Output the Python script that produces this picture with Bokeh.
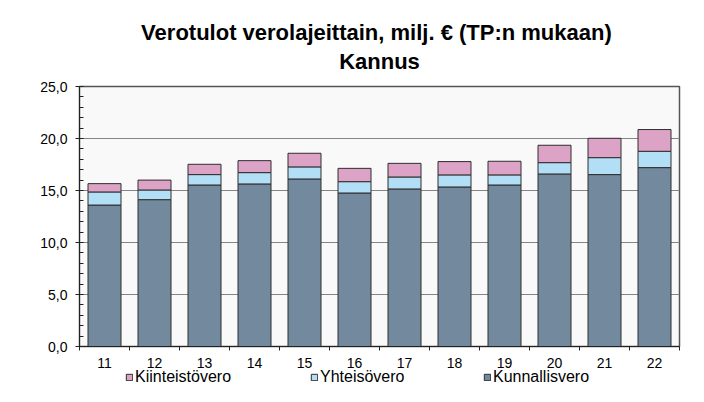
from bokeh.plotting import figure
from bokeh.layouts import column
from bokeh.models import (ColumnDataSource, Range1d, FixedTicker, Legend, LegendItem, Title)
from bokeh.embed import file_html
from bokeh.resources import INLINE

categories = ["11", "12", "13", "14", "15", "16", "17", "18", "19", "20", "21", "22"]
kunnallisvero = [13.60, 14.12, 15.53, 15.63, 16.11, 14.76, 15.15, 15.34, 15.53, 16.59, 16.53, 17.20]
yhteisovero = [1.26, 0.93, 1.00, 1.09, 1.16, 1.09, 1.15, 1.16, 0.97, 1.09, 1.63, 1.57]
kiinteistovero = [0.80, 0.95, 0.99, 1.15, 1.31, 1.28, 1.31, 1.28, 1.31, 1.67, 1.86, 2.09]
y_ticks = [0, 5, 10, 15, 20, 25]
y_tick_labels = ["0,0", "5,0", "10,0", "15,0", "20,0", "25,0"]
series_names = ["Kunnallisvero", "Yhteisövero", "Kiinteistövero"]
title_main = "Verotulot verolajeittain, milj. €  (TP:n mukaan)"
title_sub = "Kannus"

FONT = "Liberation Sans"
colors = ["#738A9E", "#B3DFF6", "#DDA3C6"]
EDGE = "#2E2E2E"

idx = list(range(len(categories)))
source = ColumnDataSource(dict(x=idx, Kunnallisvero=kunnallisvero,
                               Yhteisövero=yhteisovero, Kiinteistövero=kiinteistovero))

p = figure(width=688, height=372, output_backend="svg", toolbar_location=None,
           x_range=Range1d(-0.5, len(categories) - 0.5), y_range=Range1d(0, 25),
           min_border_left=79, min_border_right=9, min_border_top=86, min_border_bottom=26,
           background_fill_color="#F9F9F9", border_fill_color="white")
p.title.text = ""

renderers = p.vbar_stack(series_names, x="x", width=0.66, source=source,
                         fill_color=colors, line_color=EDGE, line_width=1)

p.add_layout(Title(text=title_sub, align="center", offset=-4,
                   text_font=FONT, text_font_size="22px", text_font_style="bold",
                   text_color="black", standoff=25), "above")
p.add_layout(Title(text=title_main, align="center", offset=-4,
                   text_font=FONT, text_font_size="22px", text_font_style="bold",
                   text_color="black", standoff=-20), "above")

p.outline_line_color = "#555555"
p.outline_line_width = 1.5

# x axis
xa = p.xaxis[0]
xa.ticker = FixedTicker(ticks=idx, minor_ticks=[i - 0.5 for i in range(len(categories) + 1)])
xa.major_label_overrides = {i: c for i, c in zip(idx, categories)}
xa.major_tick_line_color = None
xa.major_tick_out = 0
xa.major_tick_in = 0
xa.minor_tick_out = 4
xa.minor_tick_in = 0
xa.minor_tick_line_color = "#222222"
xa.axis_line_color = "#222222"
xa.major_label_standoff = 7
xa.major_label_text_font = FONT
xa.major_label_text_font_size = "14px"
xa.major_label_text_color = "black"

# y axis
ya = p.yaxis[0]
ya.ticker = FixedTicker(ticks=y_ticks, minor_ticks=list(range(0, 26)))
ya.major_label_overrides = {t: l for t, l in zip(y_ticks, y_tick_labels)}
ya.major_tick_out = 4
ya.major_tick_in = 4
ya.minor_tick_out = 0
ya.minor_tick_in = 4
ya.major_tick_line_color = "#222222"
ya.minor_tick_line_color = "#222222"
ya.axis_line_color = "#222222"
ya.major_label_standoff = 8
ya.major_label_text_font = FONT
ya.major_label_text_font_size = "14px"
ya.major_label_text_color = "black"

p.xgrid.grid_line_color = None
p.ygrid.ticker = FixedTicker(ticks=y_ticks)
p.ygrid.grid_line_color = "#858585"
p.ygrid.grid_line_width = 1

# legend strip below the chart (same data source; its view range shows no bars)
lf = figure(width=688, height=22, output_backend="svg", toolbar_location=None,
            x_range=Range1d(100, 101), y_range=Range1d(100, 101),
            x_axis_location=None, y_axis_location=None,
            min_border_left=0, min_border_right=0, min_border_top=0, min_border_bottom=0,
            background_fill_alpha=0, border_fill_alpha=0, margin=(-8, 0, 0, 0))
lf.grid.visible = False
lf.outline_line_color = None
lf.title.text = ""
legend_renderers = lf.vbar_stack(series_names, x="x", width=0.66, source=source,
                                 fill_color=colors, line_color=EDGE, line_width=1)

legend_x = [46, 231, 404]
order = [2, 1, 0]
for lx, k in zip(legend_x, order):
    lg = Legend(items=[LegendItem(label=series_names[k], renderers=[legend_renderers[k]])],
                location=(lx, 0), orientation="horizontal",
                glyph_width=8, glyph_height=8, label_standoff=2, label_height=16,
                padding=0, margin=0, spacing=0,
                border_line_color=None, background_fill_alpha=0,
                label_text_font=FONT, label_text_font_size="16px", label_text_color="black")
    lf.add_layout(lg, "center")

layout = column(p, lf, spacing=0)
open("out.html", "w").write(file_html(layout, INLINE))
